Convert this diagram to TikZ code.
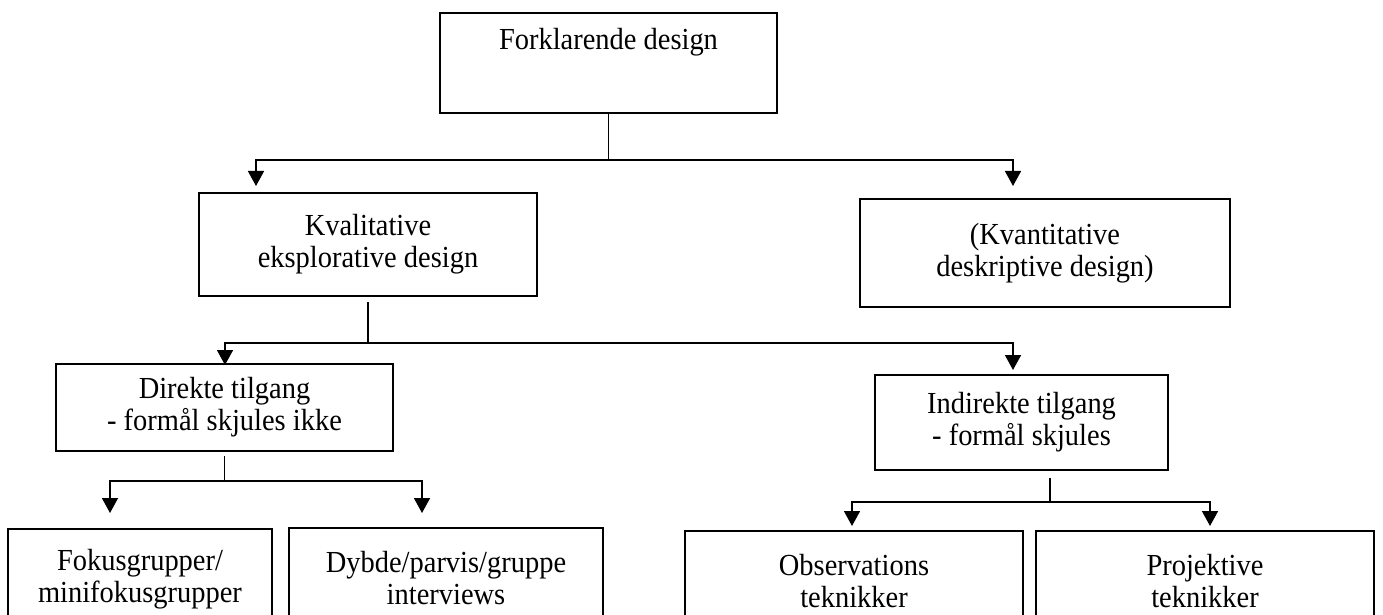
\documentclass[tikz,border=0pt]{standalone}
\usepackage{fontspec}
\setmainfont{Liberation Serif}[FakeStretch=0.93]
\usetikzlibrary{arrows.meta}
\begin{document}
\begin{tikzpicture}[x=0.5pt,y=-0.5pt,
  box/.style={draw, line width=0.8pt, align=center, inner sep=0pt,
    font=\fontsize{15.3}{16}\selectfont},
  ln/.style={line width=0.8pt},
  arr/.style={line width=0.8pt, -{Triangle[width=8pt,length=7.5pt]}}]
\useasboundingbox (0,0) rectangle (1383,615);
% boxes
\node[box, minimum width=168.5pt, minimum height=50pt, text height=10.2pt, text depth=23.2pt] (fork) at (608.5,63) {Forklarende design};
\node[box, minimum width=169pt, minimum height=51.5pt] (kval) at (368,244.5) {Kvalitative\\eksplorative design};
\node[box, minimum width=185pt, minimum height=54pt] (kvant) at (1045,253) {(Kvantitative\\deskriptive design)};
\node[box, minimum width=168.5pt, minimum height=43.5pt] (dir) at (224.5,407.5) {Direkte tilgang\\- formål skjules ikke};
\node[box, minimum width=146.5pt, minimum height=47.5pt] (ind) at (1021.5,422.5) {Indirekte tilgang\\- formål skjules};
\node[box, minimum width=132pt, minimum height=50pt] (fok) at (140,579) {Fokusgrupper/\\minifokusgrupper};
\node[box, minimum width=157pt, minimum height=50pt] (dyb) at (446,578) {Dybde/parvis/gruppe\\interviews};
\node[box, minimum width=169pt, minimum height=50pt] (obs) at (854,581) {Observations\\teknikker};
\node[box, minimum width=169pt, minimum height=50pt] (proj) at (1205,581) {Projektive\\teknikker};
% junction and arrow-end coordinates
\coordinate (j1) at (608.5,160);
\coordinate (t1a) at (256,186);
\coordinate (t1b) at (1013,186);
\coordinate (s2) at (368,302);
\coordinate (j2) at (368,343);
\coordinate (t2a) at (225,365);
\coordinate (t2b) at (1013,370);
\coordinate (s3) at (224.5,456);
\coordinate (j3) at (224.5,481);
\coordinate (t3a) at (110,513);
\coordinate (t3b) at (422,513);
\coordinate (s4) at (1050,478);
\coordinate (j4) at (1050,502);
\coordinate (t4a) at (852,526);
\coordinate (t4b) at (1210,526);
% connectors
\draw[ln] (fork.south) -- (j1);
\draw[arr] (j1) -| (t1a);
\draw[arr] (j1) -| (t1b);
\draw[ln] (s2) -- (j2);
\draw[arr] (j2) -| (t2a);
\draw[arr] (j2) -| (t2b);
\draw[ln] (s3) -- (j3);
\draw[arr] (j3) -| (t3a);
\draw[arr] (j3) -| (t3b);
\draw[ln] (s4) -- (j4);
\draw[arr] (j4) -| (t4a);
\draw[arr] (j4) -| (t4b);
\end{tikzpicture}
\end{document}
